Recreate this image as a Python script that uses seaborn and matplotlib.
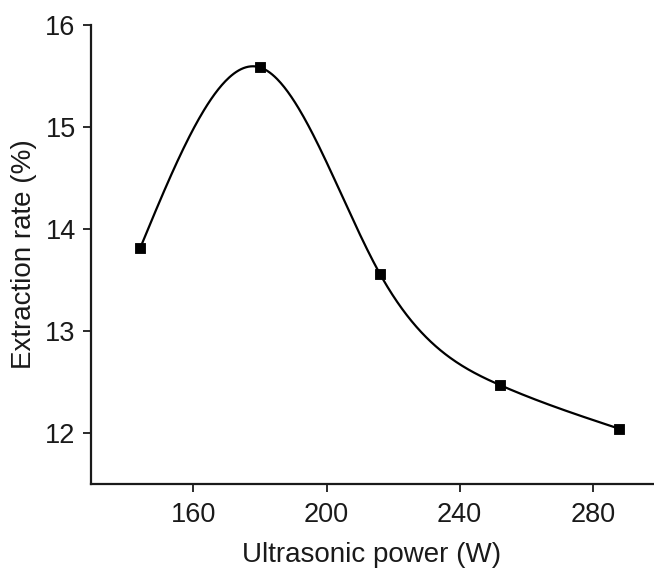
import numpy as np
import pandas as pd
import seaborn as sns
import matplotlib.pyplot as plt

# data
power = [144, 180, 216, 252, 288]
extraction = [13.81, 15.58, 13.56, 12.47, 12.04]
x_ticks = [160, 200, 240, 280]
y_ticks = [12, 13, 14, 15, 16]


def natural_spline(x, y, n=400):
    # smooth line through the points (natural cubic spline), only for drawing
    x = np.asarray(x, float)
    y = np.asarray(y, float)
    h = np.diff(x)
    k = len(x)
    A = np.zeros((k, k))
    b = np.zeros(k)
    A[0, 0] = A[-1, -1] = 1
    for i in range(1, k - 1):
        A[i, i - 1] = h[i - 1]
        A[i, i] = 2 * (h[i - 1] + h[i])
        A[i, i + 1] = h[i]
        b[i] = 3 * ((y[i + 1] - y[i]) / h[i] - (y[i] - y[i - 1]) / h[i - 1])
    c = np.linalg.solve(A, b)
    xs = np.linspace(x[0], x[-1], n)
    idx = np.clip(np.searchsorted(x, xs) - 1, 0, k - 2)
    dx = xs - x[idx]
    bb = (y[1:] - y[:-1]) / h - h * (2 * c[:-1] + c[1:]) / 3
    d = (c[1:] - c[:-1]) / (3 * h)
    ys = y[idx] + bb[idx] * dx + c[idx] * dx ** 2 + d[idx] * dx ** 3
    return xs, ys


sns.set_style("ticks")
plt.rcParams['font.family'] = ['Liberation Sans', 'DejaVu Sans']

fig = plt.figure(figsize=(6.54, 5.70), dpi=100)
ax = fig.add_axes([0.139, 0.151, 0.859, 0.806])

df = pd.DataFrame({"power": power, "rate": extraction})
xs, ys = natural_spline(power, extraction)
sns.lineplot(x=xs, y=ys, ax=ax, color="black", linewidth=1.6)
sns.scatterplot(data=df, x="power", y="rate", ax=ax, marker="s", s=60,
                color="black", edgecolor="black", zorder=3)

ax.set_xlim(129.2, 298)
ax.set_ylim(11.5, 16)
ax.set_xticks(x_ticks)
ax.set_yticks(y_ticks)
ax.tick_params(labelsize=19.5, length=6, width=1.3, color="#1a1a1a", labelcolor="#1a1a1a")
ax.tick_params(axis="y", pad=5)
ax.tick_params(axis="x", pad=7)

ax.set_xlabel("Ultrasonic power (W)", fontsize=20, color="#1a1a1a", labelpad=10)
ax.set_ylabel("Extraction rate (%)", fontsize=20, color="#1a1a1a", labelpad=6)

sns.despine(ax=ax)
for s in ["left", "bottom"]:
    ax.spines[s].set_linewidth(1.6)
    ax.spines[s].set_color("#1a1a1a")

plt.savefig("out.png", dpi=100)
